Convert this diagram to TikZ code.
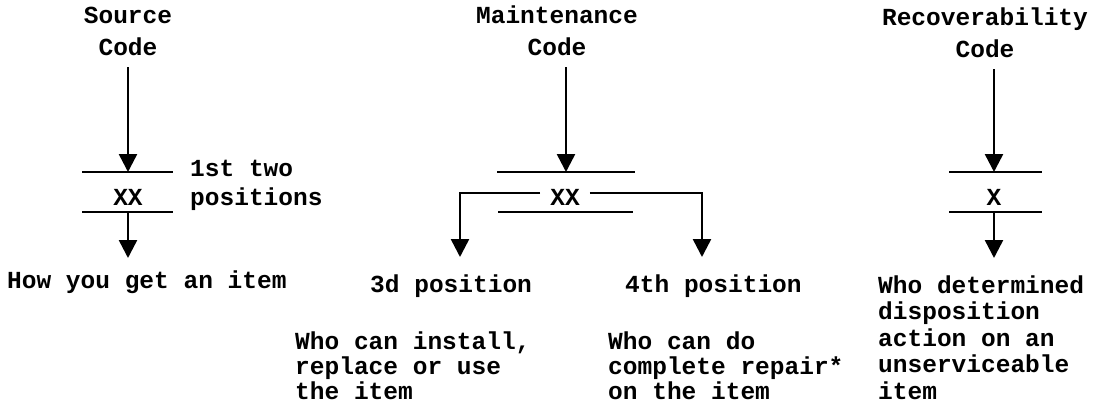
\documentclass[tikz,border=0pt]{standalone}
\usepackage{fontspec}
\newfontfamily\tw{Liberation Mono}
\usetikzlibrary{arrows.meta}
\begin{document}
\begin{tikzpicture}[x=1pt,y=-1pt,
 txt/.style={font=\tw\bfseries\fontsize{24.5pt}{26.5pt}\selectfont, inner sep=0pt},
 hdr/.style={txt, align=center, anchor=base},
 lbl/.style={txt, align=left, anchor=base west},
 bar/.style={line width=2.5pt},
 arr/.style={line width=2.5pt, -{Triangle[length=18pt,width=18pt]}},
]
\useasboundingbox[fill=white] (0,0) rectangle (1095,416);

% ---------- Source Code ----------
\node[hdr] (sh) at (128,55) {Source\\[5.5pt]Code};
\coordinate (sT) at (128,172);
\coordinate (sB) at (128,212);
\coordinate (sE) at (128,258);
\draw[bar] (82,172) -- (173,172);
\draw[bar] (82,212) -- (173,212);
\node[txt, anchor=base] (sxx) at (128,205) {XX};
\node[lbl] (spos) at (190,205) {1st two\\[2.5pt]positions};
\node[lbl] (sres) at (7,288) {How you get an item};
\draw[arr, shorten <=12pt] (sh.south -| sT) -- (sT);
\draw[arr] (sB) -- (sE);

% ---------- Maintenance Code ----------
\node[hdr] (mh) at (557,55) {Maintenance\\[5.5pt]Code};
\coordinate (mT) at (566,172);
\coordinate (mY) at (0,193);
\coordinate (mL) at (460,257);
\coordinate (mR) at (702,257);
\draw[bar] (497,172) -- (635,172);
\draw[bar] (498,212) -- (633,212);
\node[txt, anchor=base, inner xsep=10pt] (mxx) at (565,205) {XX};
\draw[arr, shorten <=12pt] (mh.south -| mT) -- (mT);
\draw[arr] (mxx.west |- mY) -| (mL);
\draw[arr] (mxx.east |- mY) -| (mR);
\node[lbl] (m3) at (370,292) {3d position};
\node[lbl] (m4) at (625,292) {4th position};
\node[lbl] (m3d) at (295,399) {Who can install,\\[-1.5pt]replace or use\\[-1.5pt]the item};
\node[lbl] (m4d) at (608,399) {Who can do\\[-1.5pt]complete repair*\\[-1.5pt]on the item};

% ---------- Recoverability Code ----------
\node[hdr] (rh) at (985,57) {Recoverability\\[5.5pt]Code};
\coordinate (rT) at (994,172);
\coordinate (rB) at (994,212);
\coordinate (rE) at (994,258);
\draw[bar] (949,172) -- (1042,172);
\draw[bar] (949,212) -- (1042,212);
\node[txt, anchor=base] (rx) at (994,205) {X};
\draw[arr, shorten <=12pt] (rh.south -| rT) -- (rT);
\draw[arr] (rB) -- (rE);
\node[lbl] (rres) at (878,399) {Who determined\\disposition\\action on an\\unserviceable\\item};
\end{tikzpicture}
\end{document}
